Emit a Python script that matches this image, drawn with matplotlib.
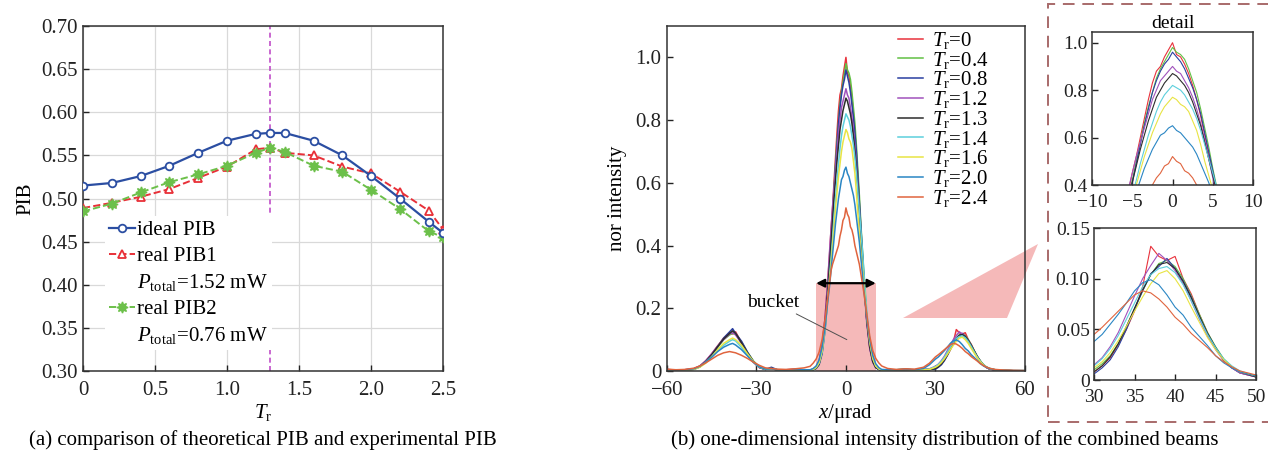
import numpy as np
import matplotlib.pyplot as plt
from matplotlib.patches import Rectangle, Polygon
from matplotlib.lines import Line2D

plt.rcParams['font.family'] = ['Liberation Serif', 'DejaVu Serif']
plt.rcParams['mathtext.fontset'] = 'custom'
plt.rcParams['mathtext.rm'] = 'Liberation Serif'
plt.rcParams['mathtext.it'] = 'Liberation Serif:italic'
plt.rcParams['axes.unicode_minus'] = True

# ---------------- (a) PIB versus T_r ----------------
tr = [0, 0.2, 0.4, 0.6, 0.8, 1.0, 1.2, 1.3, 1.4, 1.6, 1.8, 2.0, 2.2, 2.4, 2.5]
pib_ideal = [0.515, 0.518, 0.526, 0.538, 0.553, 0.567, 0.575, 0.576, 0.576,
             0.567, 0.550, 0.526, 0.500, 0.473, 0.460]
pib_real1 = [0.489, 0.495, 0.502, 0.511, 0.524, 0.537, 0.557, 0.559, 0.553,
             0.550, 0.537, 0.529, 0.508, 0.486, 0.464]
pib_real2 = [0.485, 0.494, 0.507, 0.519, 0.528, 0.538, 0.553, 0.559, 0.554,
             0.538, 0.531, 0.510, 0.488, 0.462, 0.455]
tr_best = 1.3

# ---------------- (b) far-field intensity profiles ----------------
x_urad = [-60, -57, -54, -51, -49, -47, -45, -43, -41, -39, -38, -37, -35, -33, -31,
          -29, -27, -25, -23, -20, -17, -14,
          -12, -11, -10, -9, -8, -7, -6,
          -5.5, -5, -4.5, -4, -3.5, -3, -2.5, -2, -1.5, -1, -0.5, 0,
          0.5, 1, 1.5, 2, 2.5, 3, 3.5, 4, 4.5, 5, 5.5,
          6, 7, 8, 9, 10, 11, 12,
          14, 17, 20, 23, 26, 28, 30, 31, 32, 33, 34, 35, 36, 37, 38, 39,
          40, 41, 42, 43, 44, 45, 46, 47, 48, 50, 53, 56, 60]

i_tr00 = [0.005, 0.002, 0.004, 0.007, 0.016, 0.032, 0.055, 0.08, 0.105, 0.122, 0.118,
          0.125, 0.09, 0.055, 0.028, 0.01, 0.005, 0.008, 0.003, 0.004, 0.006, 0.003,
          0.003, 0.006, 0.012, 0.03, 0.08, 0.17, 0.30,
          0.37, 0.45, 0.52, 0.60, 0.68, 0.76, 0.83, 0.88, 0.90, 0.94, 0.97, 1.00,
          0.95, 0.94, 0.91, 0.87, 0.82, 0.76, 0.69, 0.61, 0.53, 0.45, 0.37,
          0.29, 0.16, 0.075, 0.03, 0.012, 0.006, 0.003,
          0.004, 0.003, 0.005, 0.002, 0.004, 0.005, 0.008, 0.014, 0.022, 0.035, 0.05,
          0.068, 0.092, 0.132, 0.122, 0.118, 0.122, 0.10, 0.085, 0.065, 0.047, 0.032,
          0.02, 0.012, 0.007, 0.003, 0.002, 0.001, 0.001]
i_tr04 = [0.004, 0.003, 0.002, 0.006, 0.014, 0.03, 0.05, 0.075, 0.1, 0.115, 0.12,
          0.118, 0.092, 0.06, 0.032, 0.013, 0.006, 0.007, 0.004, 0.002, 0.005, 0.004,
          0.002, 0.004, 0.009, 0.022, 0.06, 0.14, 0.27,
          0.34, 0.42, 0.50, 0.58, 0.66, 0.73, 0.79, 0.85, 0.89, 0.92, 0.95, 0.98,
          0.96, 0.95, 0.93, 0.89, 0.84, 0.79, 0.72, 0.64, 0.56, 0.47, 0.39,
          0.31, 0.17, 0.08, 0.032, 0.012, 0.005, 0.003,
          0.003, 0.004, 0.006, 0.003, 0.003, 0.004, 0.01, 0.016, 0.024, 0.036, 0.052,
          0.07, 0.088, 0.104, 0.115, 0.118, 0.112, 0.1, 0.083, 0.065, 0.047, 0.033,
          0.021, 0.013, 0.008, 0.004, 0.002, 0.001, 0.001]
i_tr08 = [0.003, 0.004, 0.003, 0.005, 0.013, 0.028, 0.05, 0.078, 0.105, 0.125, 0.135,
          0.12, 0.095, 0.06, 0.03, 0.012, 0.005, 0.012, 0.004, 0.003, 0.004, 0.002,
          0.002, 0.004, 0.008, 0.02, 0.055, 0.13, 0.25,
          0.33, 0.41, 0.49, 0.57, 0.65, 0.72, 0.79, 0.84, 0.88, 0.91, 0.93, 0.96,
          0.94, 0.92, 0.89, 0.85, 0.81, 0.76, 0.70, 0.62, 0.54, 0.46, 0.38,
          0.30, 0.16, 0.075, 0.03, 0.011, 0.005, 0.002,
          0.002, 0.003, 0.005, 0.003, 0.004, 0.005, 0.006, 0.012, 0.02, 0.033, 0.05,
          0.07, 0.088, 0.105, 0.112, 0.12, 0.11, 0.098, 0.082, 0.063, 0.046, 0.032,
          0.02, 0.012, 0.007, 0.003, 0.002, 0.001, 0.001]
i_tr12 = [0.005, 0.003, 0.004, 0.007, 0.016, 0.033, 0.055, 0.08, 0.1, 0.118, 0.122,
          0.115, 0.088, 0.055, 0.028, 0.011, 0.006, 0.008, 0.003, 0.004, 0.005, 0.003,
          0.003, 0.006, 0.013, 0.032, 0.08, 0.17, 0.30,
          0.38, 0.45, 0.52, 0.58, 0.64, 0.70, 0.76, 0.80, 0.84, 0.86, 0.88, 0.90,
          0.88, 0.87, 0.84, 0.81, 0.77, 0.72, 0.66, 0.59, 0.51, 0.43, 0.36,
          0.28, 0.15, 0.07, 0.028, 0.011, 0.005, 0.003,
          0.003, 0.004, 0.005, 0.002, 0.005, 0.007, 0.015, 0.022, 0.033, 0.047, 0.065,
          0.083, 0.1, 0.113, 0.125, 0.118, 0.108, 0.095, 0.078, 0.06, 0.043, 0.03,
          0.019, 0.012, 0.007, 0.003, 0.002, 0.001, 0.001]
i_tr13 = [0.004, 0.002, 0.003, 0.006, 0.014, 0.03, 0.052, 0.078, 0.102, 0.12, 0.128,
          0.12, 0.09, 0.057, 0.03, 0.012, 0.005, 0.009, 0.003, 0.003, 0.004, 0.002,
          0.002, 0.004, 0.009, 0.024, 0.065, 0.15, 0.27,
          0.34, 0.41, 0.48, 0.55, 0.61, 0.67, 0.72, 0.77, 0.80, 0.83, 0.85, 0.87,
          0.86, 0.84, 0.82, 0.79, 0.75, 0.70, 0.65, 0.58, 0.51, 0.44, 0.37,
          0.29, 0.16, 0.075, 0.03, 0.011, 0.005, 0.002,
          0.003, 0.003, 0.004, 0.003, 0.004, 0.005, 0.008, 0.014, 0.023, 0.036, 0.053,
          0.071, 0.089, 0.104, 0.114, 0.116, 0.11, 0.097, 0.081, 0.063, 0.046, 0.032,
          0.02, 0.013, 0.008, 0.003, 0.002, 0.001, 0.001]
i_tr14 = [0.004, 0.003, 0.003, 0.006, 0.014, 0.028, 0.046, 0.066, 0.082, 0.095, 0.1,
          0.096, 0.075, 0.05, 0.027, 0.012, 0.006, 0.008, 0.004, 0.003, 0.005, 0.003,
          0.003, 0.005, 0.011, 0.026, 0.06, 0.13, 0.24,
          0.30, 0.36, 0.42, 0.49, 0.55, 0.61, 0.66, 0.71, 0.75, 0.78, 0.80, 0.82,
          0.81, 0.80, 0.78, 0.75, 0.72, 0.68, 0.63, 0.57, 0.51, 0.45, 0.39,
          0.32, 0.19, 0.095, 0.04, 0.016, 0.007, 0.003,
          0.003, 0.004, 0.005, 0.003, 0.004, 0.006, 0.014, 0.021, 0.031, 0.044, 0.06,
          0.076, 0.092, 0.104, 0.11, 0.112, 0.106, 0.094, 0.078, 0.061, 0.045, 0.032,
          0.021, 0.014, 0.009, 0.004, 0.002, 0.001, 0.001]
i_tr16 = [0.004, 0.002, 0.003, 0.005, 0.012, 0.025, 0.045, 0.068, 0.088, 0.1, 0.105,
          0.1, 0.082, 0.055, 0.03, 0.013, 0.006, 0.007, 0.004, 0.003, 0.004, 0.003,
          0.003, 0.005, 0.011, 0.026, 0.065, 0.14, 0.24,
          0.29, 0.34, 0.40, 0.46, 0.52, 0.57, 0.62, 0.66, 0.70, 0.73, 0.75, 0.77,
          0.76, 0.74, 0.73, 0.71, 0.67, 0.63, 0.57, 0.50, 0.44, 0.38, 0.33,
          0.28, 0.17, 0.09, 0.04, 0.016, 0.007, 0.003,
          0.003, 0.004, 0.005, 0.003, 0.004, 0.005, 0.012, 0.018, 0.027, 0.039, 0.053,
          0.068, 0.082, 0.095, 0.105, 0.108, 0.1, 0.088, 0.072, 0.057, 0.042, 0.03,
          0.02, 0.013, 0.008, 0.004, 0.002, 0.001, 0.001]
i_tr20 = [0.004, 0.003, 0.004, 0.007, 0.015, 0.028, 0.044, 0.062, 0.076, 0.085, 0.088,
          0.083, 0.068, 0.048, 0.028, 0.013, 0.006, 0.007, 0.004, 0.003, 0.005, 0.004,
          0.004, 0.008, 0.016, 0.035, 0.075, 0.14, 0.23,
          0.27, 0.32, 0.37, 0.42, 0.47, 0.51, 0.55, 0.58, 0.61, 0.62, 0.64, 0.65,
          0.63, 0.62, 0.60, 0.58, 0.56, 0.53, 0.49, 0.45, 0.41, 0.36, 0.31,
          0.26, 0.17, 0.10, 0.05, 0.023, 0.011, 0.005,
          0.004, 0.004, 0.006, 0.004, 0.008, 0.02, 0.038, 0.045, 0.055, 0.065, 0.076,
          0.088, 0.096, 0.099, 0.094, 0.084, 0.072, 0.064, 0.052, 0.043, 0.034, 0.024,
          0.017, 0.012, 0.008, 0.004, 0.002, 0.001, 0.001]
i_tr24 = [0.006, 0.004, 0.005, 0.009, 0.016, 0.026, 0.038, 0.05, 0.058, 0.062, 0.06,
          0.058, 0.05, 0.04, 0.028, 0.018, 0.01, 0.008, 0.006, 0.005, 0.007, 0.01,
          0.015, 0.025, 0.038, 0.06, 0.10, 0.165, 0.24,
          0.28, 0.32, 0.34, 0.355, 0.37, 0.385, 0.40, 0.43, 0.45, 0.48, 0.49, 0.52,
          0.50, 0.49, 0.46, 0.45, 0.43, 0.40, 0.38, 0.36, 0.34, 0.31, 0.28,
          0.25, 0.18, 0.11, 0.065, 0.04, 0.026, 0.016,
          0.008, 0.005, 0.007, 0.006, 0.012, 0.025, 0.045, 0.052, 0.06, 0.068, 0.076,
          0.084, 0.088, 0.086, 0.08, 0.072, 0.062, 0.055, 0.046, 0.039, 0.032, 0.024,
          0.018, 0.013, 0.009, 0.005, 0.003, 0.002, 0.001]

profiles = [i_tr00, i_tr04, i_tr08, i_tr12, i_tr13, i_tr14, i_tr16, i_tr20, i_tr24]
profile_labels = ['0', '0.4', '0.8', '1.2', '1.3', '1.4', '1.6', '2.0', '2.4']
profile_colors = ['#e8323c', '#62c044', '#2a3fa0', '#a052bc', '#2c2c2c',
                  '#5ccfdc', '#e8e444', '#2a86c4', '#e0643e']
bucket_half = 10
bucket_top = 0.28

pink = '#f5b9b9'
fs = 15

fig = plt.figure(figsize=(12.68, 4.53), dpi=100)

# ---------------- panel (a) ----------------
ax_a = fig.add_axes([0.0655, 0.181, 0.284, 0.7616])
ax_a.plot(tr, pib_ideal, '-', color='#2b4ea2', lw=1.6, marker='o', ms=5.5,
          mfc='white', mec='#2b4ea2', mew=1.3, zorder=4)
ax_a.plot(tr, pib_real1, '--', color='#e83038', lw=1.4, marker='^', ms=6,
          mfc='white', mec='#e83038', mew=1.3, zorder=3)
ax_a.plot(tr, pib_real2, '--', color='#6cc04a', lw=1.4, marker=(8, 1, 0), ms=8,
          mfc='#6cc04a', mec='#6cc04a', zorder=3)
ax_a.axvline(tr_best, color='#c04ec8', ls=(0, (3, 2)), lw=1.2, zorder=2)
ax_a.set_xlim(0, 2.5)
ax_a.set_ylim(0.30, 0.70)
ax_a.set_xticks([0, 0.5, 1.0, 1.5, 2.0, 2.5])
ax_a.set_xticklabels(['0', '0.5', '1.0', '1.5', '2.0', '2.5'])
ax_a.set_yticks(np.arange(0.30, 0.701, 0.05))
ax_a.set_yticklabels(['%.2f' % v for v in np.arange(0.30, 0.701, 0.05)])
ax_a.grid(True, color='#d9d9d9', lw=0.9)
ax_a.set_axisbelow(True)
ax_a.set_xlabel(r'$T_\mathrm{r}$', fontsize=fs, labelpad=1)
ax_a.set_ylabel('PIB', fontsize=fs, labelpad=4)

blank = Line2D([], [], ls='none')
h_ideal = Line2D([], [], color='#2b4ea2', lw=1.6, marker='o', ms=5.5, mfc='white', mew=1.3)
h_real1 = Line2D([], [], color='#e83038', lw=1.4, ls='--', marker='^', ms=6,
                 mfc='white', mew=1.3)
h_real2 = Line2D([], [], color='#6cc04a', lw=1.4, ls='--', marker=(8, 1, 0), ms=8)
ax_a.legend([h_ideal, h_real1, blank, h_real2, blank],
            ['ideal PIB', 'real PIB1', r'$P_\mathrm{total}$=1.52 mW',
             'real PIB2', r'$P_\mathrm{total}$=0.76 mW'],
            loc='lower left', bbox_to_anchor=(0.06, 0.06), fontsize=fs,
            frameon=True, framealpha=1, edgecolor='none', fancybox=False,
            handlelength=1.25, handletextpad=0.12, labelspacing=0.3,
            borderpad=0.2, borderaxespad=0)

# ---------------- panel (b) ----------------
ax_b = fig.add_axes([0.526, 0.181, 0.2823, 0.7616])
ax_b.set_facecolor('none')
ax_b.add_patch(Rectangle((-bucket_half, 0), 2 * bucket_half, bucket_top,
                         facecolor=pink, edgecolor='none', zorder=1))
for y, lab, c in zip(profiles, profile_labels, profile_colors):
    ax_b.plot(x_urad, y, color=c, lw=1.1, label=r'$T_\mathrm{r}$=' + lab, zorder=2)
ax_b.annotate('', xy=(-bucket_half, bucket_top), xytext=(bucket_half, bucket_top),
              arrowprops=dict(arrowstyle='<|-|>', color='black', lw=1.6,
                              shrinkA=0, shrinkB=0, mutation_scale=12), zorder=5)
ax_b.annotate('bucket', xy=(0.3, 0.1), xytext=(-24.5, 0.22), fontsize=14,
              ha='center', va='center',
              arrowprops=dict(arrowstyle='-', color='#505050', lw=0.7,
                              shrinkA=1, shrinkB=0), zorder=5)
ax_b.set_xlim(-60, 60)
ax_b.set_ylim(0, 1.1)
ax_b.set_xticks([-60, -30, 0, 30, 60])
ax_b.set_yticks([0, 0.2, 0.4, 0.6, 0.8, 1.0])
ax_b.set_yticklabels(['0', '0.2', '0.4', '0.6', '0.8', '1.0'])
ax_b.set_xlabel(r'$x$/μrad', fontsize=fs, labelpad=1)
ax_b.set_ylabel('nor intensity', fontsize=fs, labelpad=6)
ax_b.legend(loc='upper right', bbox_to_anchor=(0.905, 0.995), fontsize=15,
            frameon=False, handlelength=1.2, handletextpad=0.45,
            labelspacing=-0.06, borderpad=0.1, borderaxespad=0)

# zoomed views of the main lobe and the first side lobe
ax_d1 = fig.add_axes([0.8612, 0.5916, 0.127, 0.3377])
ax_d2 = fig.add_axes([0.8628, 0.1611, 0.1278, 0.3355])
for y, c in zip(profiles, profile_colors):
    ax_d1.plot(x_urad, y, color=c, lw=0.8)
    ax_d2.plot(x_urad, y, color=c, lw=0.8)
ax_d1.set_xlim(-10, 10)
ax_d1.set_ylim(0.4, 1.045)
ax_d1.set_xticks([-10, -5, 0, 5, 10])
ax_d1.set_yticks([0.4, 0.6, 0.8, 1.0])
ax_d1.set_yticklabels(['0.4', '0.6', '0.8', '1.0'])
ax_d1.set_title('detail', fontsize=14, pad=3)
ax_d2.set_xlim(30, 50)
ax_d2.set_ylim(0, 0.15)
ax_d2.set_xticks([30, 35, 40, 45, 50])
ax_d2.set_yticks([0, 0.05, 0.10, 0.15])
ax_d2.set_yticklabels(['0', '0.05', '0.10', '0.15'])

for ax in (ax_a, ax_b, ax_d1, ax_d2):
    ax.tick_params(direction='in', length=4, width=1, labelsize=fs, colors='#222222',
                   pad=4)
    ax.tick_params(axis='x', pad=7.5)
    for s in ax.spines.values():
        s.set_linewidth(1.1)
        s.set_color('#333333')
for ax in (ax_d1, ax_d2):
    ax.tick_params(labelsize=14, pad=3)
    ax.tick_params(axis='x', pad=6.5)

# dashed frame around the detail views and the pointer wedge
fig.add_artist(Rectangle((1048 / 1268, 31 / 453), 0.2, 418 / 453,
                         transform=fig.transFigure, fill=False, edgecolor='#a86a6a',
                         lw=1.4, ls=(0, (6, 4))))
fig.add_artist(Polygon([(903 / 1268, 135 / 453), (1007 / 1268, 135 / 453),
                        (1038 / 1268, 209 / 453)], closed=True,
                       transform=fig.transFigure, facecolor=pink, edgecolor='none',
                       zorder=-1))

fig.text(0.207, 0.028, '(a) comparison of theoretical PIB and experimental PIB',
         ha='center', va='center', fontsize=fs)
fig.text(0.745, 0.028, '(b) one-dimensional intensity distribution of the combined beams',
         ha='center', va='center', fontsize=fs)

fig.savefig('out.png', dpi=100)
